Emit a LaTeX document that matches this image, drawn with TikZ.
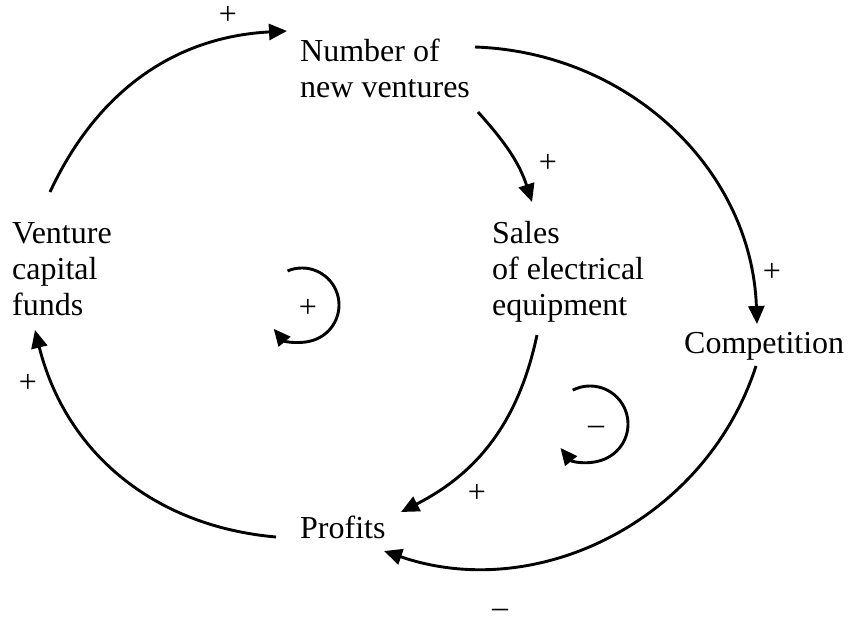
\documentclass[tikz,border=0pt]{standalone}
\usepackage{fontspec}
\setmainfont{Liberation Serif}
\usetikzlibrary{arrows.meta,calc}
\begin{document}
\begin{tikzpicture}[x=1pt,y=1pt,
  lbl/.style={font=\fontsize{32}{36}\selectfont, inner sep=0pt, anchor=base west},
  sgn/.style={font=\fontsize{32}{36}\selectfont, inner sep=0pt},
  link/.style={line width=2.9pt, -{Triangle[length=18pt,width=16pt]}},
  loopmark/.style={line width=2.9pt, -{Triangle[length=17pt,width=15pt]}},
]
\useasboundingbox (0,0) rectangle (848,-626);

\node[lbl] (num) at (300,-61) {\vtop{\hbox{Number of}\hbox{new ventures}}};
\node[lbl] (sales) at (492,-243) {\vtop{\hbox{Sales}\hbox{of electrical}\hbox{equipment}}};
\node[lbl] (comp) at (684,-353) {Competition};
\node[lbl] (ven) at (12,-243) {\vtop{\hbox{Venture}\hbox{capital}\hbox{funds}}};
\node[lbl] (prof) at (300,-538) {Profits};

\draw[link] ($(ven.base west)+(38,51)$) to[out=65,in=183] ($(num.base west)+(-13,30)$);
\draw[link] ($(num.base west)+(175,14)$) to[out=-2,in=92] ($(comp.base west)+(73,29)$);
\draw[link] ($(num.base west)+(178,-51)$) to[out=-48,in=108] ($(sales.base west)+(40,41)$);
\draw[link] ($(sales.base west)+(45,-92)$) to[out=-102,in=27] ($(prof.base west)+(101,26)$);
\draw[link] ($(comp.base west)+(72,-13)$) to[out=-108,in=-19] ($(prof.base west)+(84,-13)$);
\draw[link] ($(prof.base west)+(-24,1)$) to[out=175,in=-76] ($(ven.base west)+(23,-87)$);

\draw[loopmark] (302,-305) ++(113:37) arc[start angle=113,end angle=-140,radius=37];
\draw[loopmark] (590,-424) ++(117:38) arc[start angle=117,end angle=-141,radius=38];

\node[sgn] (s1) at (228,-15) {+};
\node[sgn] (s2) at (548,-163) {+};
\node[sgn] (s3) at (772,-272) {+};
\node[sgn] (s4) at (28,-383) {+};
\node[sgn] (s5) at (308,-308) {+};
\node[sgn] (s6) at (596,-430) {–};
\node[sgn] (s7) at (477,-493) {+};
\node[sgn] (s8) at (500,-613) {–};
\end{tikzpicture}
\end{document}
